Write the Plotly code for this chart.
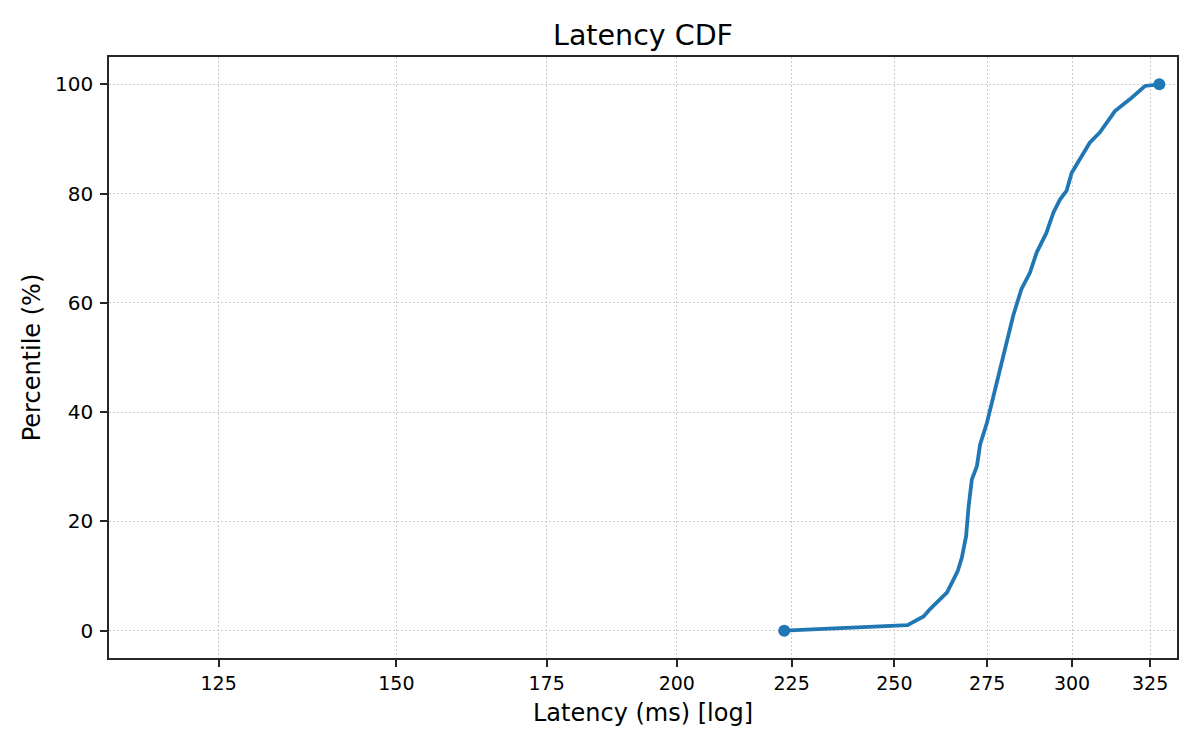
import math
import plotly.graph_objects as go

# latency (ms) vs percentile
latency_ms = [223.3, 253.4, 257.6, 259.4, 263.9, 266.8, 267.9, 269.1, 269.8, 270.7,
              272.1, 273.0, 274.9, 276.3, 277.7, 278.6, 280.0, 282.4, 284.8, 287.3,
              289.3, 292.2, 294.3, 296.3, 298.3, 299.9, 302.4, 305.5, 308.7, 313.5,
              318.4, 323.3, 328.1]
percentile = [0, 1.0, 2.6, 4.0, 7.0, 10.9, 13.3, 17.3, 22.8, 27.7,
              30.1, 34.1, 38.0, 41.7, 46.0, 48.4, 51.5, 57.6, 62.5, 65.5,
              69.2, 72.8, 76.5, 78.9, 80.5, 83.8, 86.3, 89.3, 91.2, 95.1,
              97.3, 99.7, 100]
x_ticks = [125, 150, 175, 200, 225, 250, 275, 300, 325]
y_ticks = [0, 20, 40, 60, 80, 100]

blue = "#1f77b4"
axis_col = "#262626"
grid_col = "#cccccc"

# page puts the plot 8px in from the window corner, so size it to fit
W, H = 1184, 734

fig = go.Figure()
fig.add_trace(go.Scatter(x=latency_ms, y=percentile, mode="lines",
                         line=dict(color=blue, width=3.8), showlegend=False))
# endpoints get a marker
fig.add_trace(go.Scatter(x=[latency_ms[0], latency_ms[-1]],
                         y=[percentile[0], percentile[-1]], mode="markers",
                         marker=dict(color=blue, size=12), showlegend=False))

axis_common = dict(showline=True, linecolor=axis_col, linewidth=1.6, mirror=True,
                   ticks="outside", ticklen=7, tickwidth=1.6, tickcolor=axis_col,
                   showgrid=True, gridcolor=grid_col, griddash="1.5px,2.5px", gridwidth=1.2,
                   zeroline=False)

fig.update_xaxes(type="log", range=[math.log10(111.7), math.log10(334.1)],
                 tickvals=x_ticks, ticktext=[str(v) for v in x_ticks],
                 tickfont=dict(family="DejaVu Sans", size=19, color="black"),
                 title=dict(text="Latency (ms) [log]", standoff=12,
                            font=dict(family="DejaVu Sans", size=24, color="black")),
                 **axis_common)
fig.update_yaxes(range=[-5, 105], tickvals=y_ticks, ticklabelstandoff=3,
                 tickfont=dict(family="DejaVu Sans", size=20, color="black"),
                 title=dict(text="Percentile (%)", standoff=8,
                            font=dict(family="DejaVu Sans", size=24, color="black")),
                 **axis_common)

fig.update_layout(
    width=W, height=H,
    margin=dict(l=101, r=15, t=49, b=84, autoexpand=False),
    paper_bgcolor="white", plot_bgcolor="white",
    font=dict(family="DejaVu Sans", color="black"),
    title=dict(text="Latency CDF", x=(101 + (W - 15)) / 2 / W, xanchor="center",
               y=1 - 27 / H, yanchor="middle",
               font=dict(family="DejaVu Sans", size=28.5, color="black")),
)

fig.write_html("out.html")
